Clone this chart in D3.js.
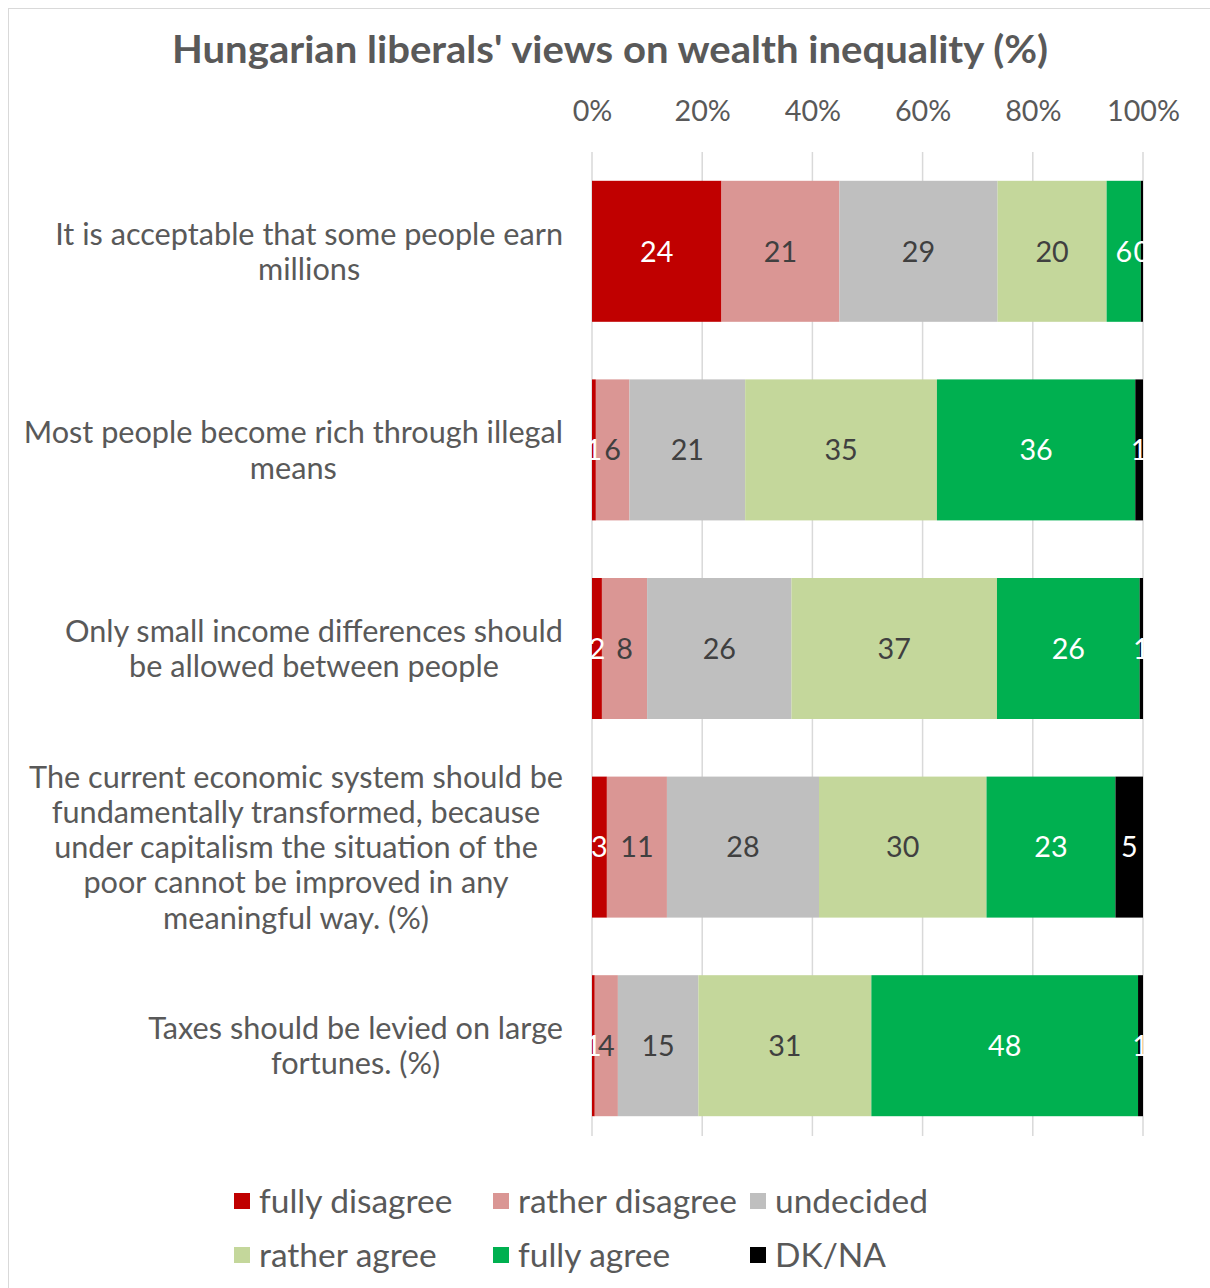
<!DOCTYPE html>
<html><head><meta charset="utf-8">
<script src="https://cdn.jsdelivr.net/npm/d3@7"></script>
<style>html,body{margin:0;padding:0;background:#fff;} svg{display:block;}</style>
</head><body>
<svg id="chart" width="1210" height="1288"></svg>
<script>
const title = "Hungarian liberals' views on wealth inequality (%)";
const categories = [
  ["It is acceptable that some people earn", "millions"],
  ["Most people become rich through illegal", "means"],
  ["Only small income differences should", "be allowed between people"],
  ["The current economic system should be", "fundamentally transformed, because", "under capitalism the situation of the", "poor cannot be improved in any", "meaningful way. (%)"],
  ["Taxes should be levied on large", "fortunes. (%)"]
];
const seriesNames = ["fully disagree", "rather disagree", "undecided", "rather agree", "fully agree", "DK/NA"];
const fullyDisagree  = [23.5, 0.7, 1.8, 2.7, 0.5];
const ratherDisagree = [21.4, 6.1, 8.2, 10.9, 4.2];
const undecided      = [28.7, 21.0, 26.2, 27.6, 14.6];
const ratherAgree    = [19.8, 34.8, 37.3, 30.4, 31.4];
const fullyAgree     = [6.2, 36.0, 25.9, 23.4, 48.4];
const dkNa           = [0.4, 1.4, 0.6, 5.0, 0.9];
const tickValues = [0, 20, 40, 60, 80, 100];

const colors = ["#C00000", "#DA9694", "#BFBFBF", "#C4D79B", "#00B050", "#000000"];
const labelColors = ["#ffffff", "#404040", "#404040", "#404040", "#ffffff", "#ffffff"];
const textColor = "#595959";
const FONT = "Lato, 'Open Sans', sans-serif";

const seriesArrays = [fullyDisagree, ratherDisagree, undecided, ratherAgree, fullyAgree, dkNa];
const rows = categories.map((c, i) => {
  const o = { idx: i };
  seriesNames.forEach((s, k) => o[s] = seriesArrays[k][i]);
  return o;
});
const stacked = d3.stack().keys(seriesNames)(rows);

const svg = d3.select("#chart");
svg.append("rect").attr("x", 8.5).attr("y", 8.5).attr("width", 1230).attr("height", 1300)
  .attr("fill", "#fff").attr("stroke", "#d9d9d9").attr("stroke-width", 1);

const x = d3.scaleLinear().domain([0, 100]).range([592, 1143]);
const y = d3.scaleBand().domain(d3.range(categories.length)).range([152, 1145])
  .paddingInner(0.29).paddingOuter(0.145);

function fitSize(sample, target, base, weight) {
  const t = svg.append("text").attr("font-family", FONT).attr("font-size", base)
    .attr("font-weight", weight || "normal").text(sample);
  const w = t.node().getComputedTextLength();
  t.remove();
  return base * target / w;
}
const catSize = fitSize("It is acceptable that some people earn", 508, 28);
const tickSize = fitSize("100%", 73, 28);
const lblSize = tickSize;
const legSize = fitSize("rather disagree", 219, 30);

// title
svg.append("text").attr("x", 610).attr("y", 63).attr("text-anchor", "middle")
  .attr("font-family", FONT).attr("font-weight", "bold").attr("font-size", 38)
  .attr("fill", textColor).attr("textLength", 876).attr("lengthAdjust", "spacingAndGlyphs")
  .text(title);

// gridlines
svg.append("g").selectAll("line").data(tickValues).join("line")
  .attr("x1", d => x(d)).attr("x2", d => x(d)).attr("y1", 152).attr("y2", 1136)
  .attr("stroke", "#d9d9d9").attr("stroke-width", 1.5);

// top axis
const axis = svg.append("g").attr("transform", "translate(0,121)")
  .call(d3.axisTop(x).tickValues(tickValues).tickFormat(d => d + "%").tickSize(0).tickPadding(0));
axis.select(".domain").remove();
axis.selectAll("text").attr("font-family", FONT).attr("font-size", tickSize).attr("fill", textColor);

// bars
const clip = svg.append("clipPath").attr("id", "plotclip");
clip.append("rect").attr("x", 589).attr("y", 140).attr("width", 1145.5 - 589).attr("height", 1000);

const layers = svg.append("g").selectAll("g").data(stacked).join("g")
  .attr("fill", (d, i) => colors[i]);
layers.selectAll("rect").data(d => d).join("rect")
  .attr("x", d => x(d[0])).attr("width", d => x(d[1]) - x(d[0]))
  .attr("y", d => y(d.data.idx)).attr("height", y.bandwidth());

const lblG = svg.append("g").attr("clip-path", "url(#plotclip)");
stacked.forEach((layer, k) => {
  lblG.append("g").selectAll("text").data(layer).join("text")
    .attr("x", d => (x(d[0]) + x(d[1])) / 2)
    .attr("y", d => y(d.data.idx) + y.bandwidth() / 2)
    .attr("dy", "0.36em").attr("text-anchor", "middle")
    .attr("font-family", FONT).attr("font-size", lblSize).attr("fill", labelColors[k])
    .text(d => Math.round(d[1] - d[0] + 1e-9));
});

// category labels
const lineH = 35.3;
categories.forEach((lines, i) => {
  const g = svg.append("g");
  const texts = g.selectAll("text").data(lines).join("text")
    .attr("font-family", FONT).attr("font-size", catSize).attr("fill", textColor)
    .attr("text-anchor", "middle").text(d => d);
  const maxW = d3.max(texts.nodes(), n => n.getComputedTextLength());
  const cx = 563 - maxW / 2;
  const cy = y(i) + y.bandwidth() / 2;
  texts.attr("x", cx)
    .attr("y", (d, j) => cy + (j - (lines.length - 1) / 2) * lineH)
    .attr("dy", "0.36em");
});

// legend
const legPos = [[234, 1201], [493, 1201], [750, 1201], [234, 1255], [493, 1255], [750, 1255]];
const leg = svg.append("g").selectAll("g").data(seriesNames).join("g")
  .attr("transform", (d, i) => `translate(${legPos[i][0]},${legPos[i][1]})`);
leg.append("rect").attr("x", 0).attr("y", -8).attr("width", 16).attr("height", 16)
  .attr("fill", (d, i) => colors[i]);
leg.append("text").attr("x", 25).attr("y", 0).attr("dy", "0.36em")
  .attr("font-family", FONT).attr("font-size", legSize).attr("fill", textColor).text(d => d);
</script>
</body></html>
